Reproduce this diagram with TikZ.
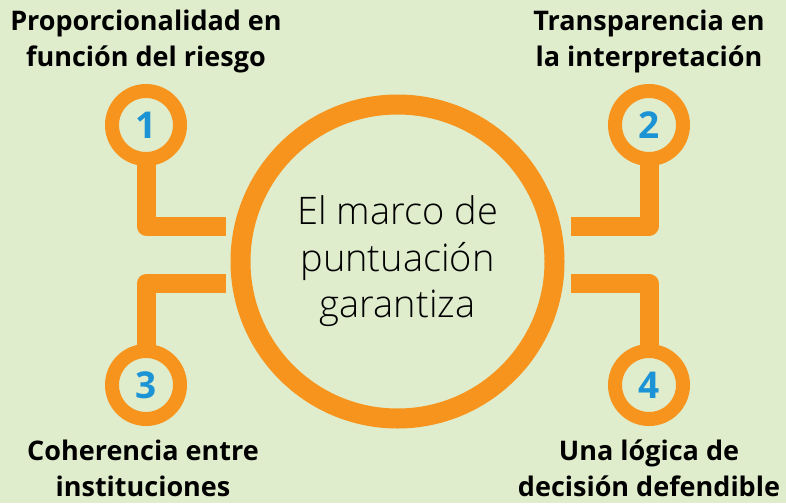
\documentclass[tikz,border=0pt]{standalone}
\usepackage{fontspec}
\setmainfont{Open Sans}
\newfontfamily\thinfont{Open Sans Light}
\usetikzlibrary{positioning}
\definecolor{paleleaf}{HTML}{E0EDCD}
\definecolor{mango}{HTML}{F7941D}
\definecolor{numblue}{HTML}{1B93D5}
\tikzset{%
  ring/.style={draw=mango,circle,inner sep=0pt},%
  stem/.style={draw=mango,line width=19pt,line join=round},%
  lbl/.style={align=center,inner sep=0pt,font=\bfseries\fontsize{27}{35.5}\selectfont}%
}

\begin{document}
\begin{tikzpicture}[x=1pt,y=-1pt]
    \fill[paleleaf] (0,0) rectangle (786,503);%
    \useasboundingbox (0,0) rectangle (786,503);%
    \node[ring,line width=20pt,minimum size=314pt,align=center,font=\thinfont\fontsize{38}{46.5}\selectfont] at (397.5,261.5) (hub) {El marco de\\puntuación\\garantiza};%
    \foreach \n/\x/\y in {1/146/125, 2/649/125, 3/146/385, 4/649/385} {%
      \node[ring,line width=14pt,minimum size=68pt,text=numblue,font=\bfseries\fontsize{37}{37}\selectfont] at (\x,\y) (n\n) {\n};%
    };%
    \coordinate (e1) at (226,226);%
    \coordinate (e2) at (570.5,226);%
    \coordinate (e3) at (226,283.5);%
    \coordinate (e4) at (570.5,283.5);%
    \draw[stem] ([yshift=3pt]n1.south) |- (e1);%
    \draw[stem] ([yshift=3pt]n2.south) |- (e2);%
    \draw[stem] ([yshift=-3pt]n3.north) |- (e3);%
    \draw[stem] ([yshift=-3pt]n4.north) |- (e4);%
    \node[lbl,above=11pt of n1] (t1) {Proporcionalidad en\\función del riesgo};%
    \node[lbl,above=11pt of n2] (t2) {Transparencia en\\la interpretación};%
    \node[lbl,below=14pt of n3,xshift=-3pt] (t3) {Coherencia entre\\instituciones};%
    \node[lbl,below=14pt of n4] (t4) {Una lógica de\\decisión defendible};%
  \end{tikzpicture}
\end{document}
